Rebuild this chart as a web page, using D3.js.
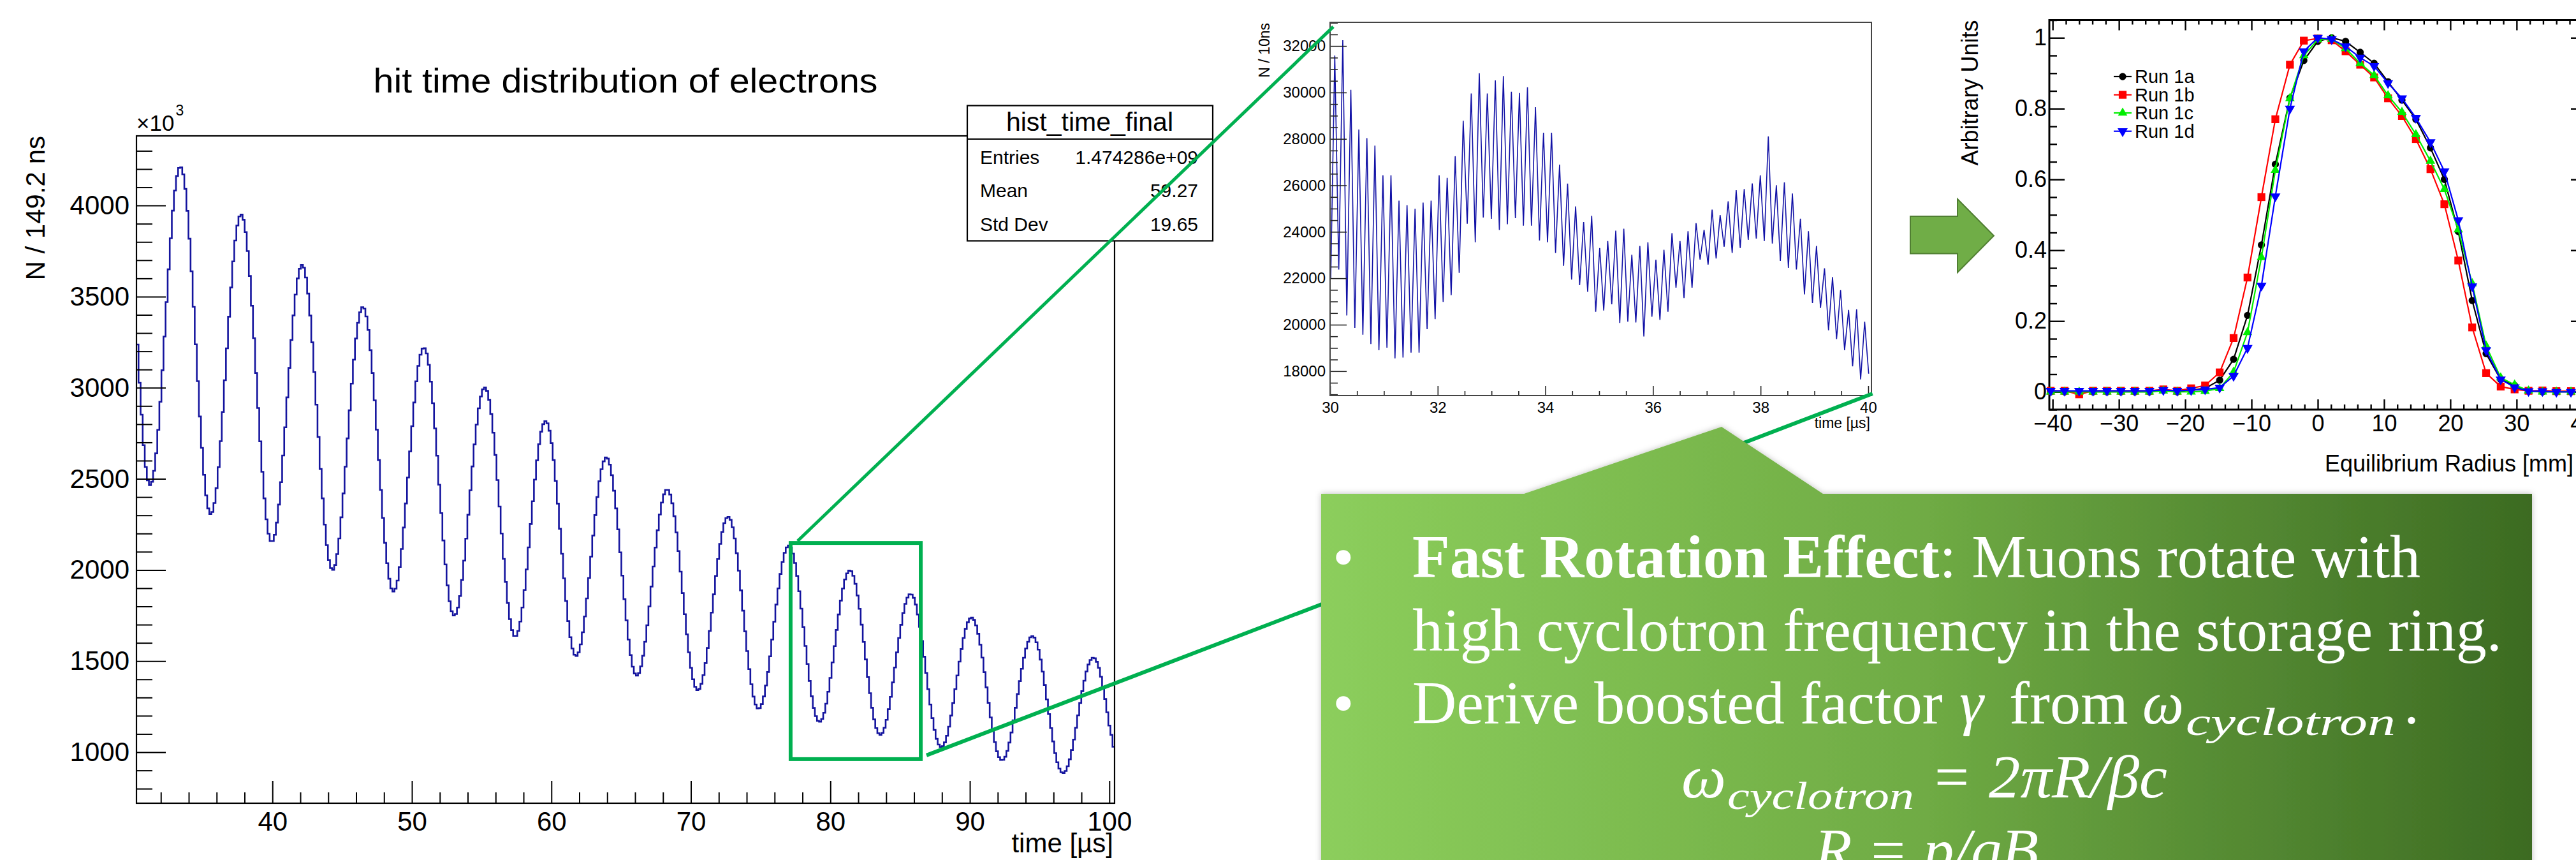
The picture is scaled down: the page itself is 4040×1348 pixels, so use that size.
<!DOCTYPE html>
<html>
<head>
<meta charset="utf-8">
<title>Fast rotation</title>
<script src="https://cdn.jsdelivr.net/npm/d3@7"></script>
<style>
  html, body { margin:0; padding:0; background:#ffffff; }
  svg { display:block; }
</style>
</head>
<body>
<svg id="chart" width="4040" height="1348" xmlns="http://www.w3.org/2000/svg"></svg>
<script>
// ================= DATA =================
const mainTitle = "hit time distribution of electrons";
const mainXTitle = "time [µs]";
const mainYTitle = "N / 149.2 ns";
const mainXRange = [30.251, 100.375];
const mainYRange = [720, 4382];
const mainBinStart = 30.251;
const mainBinWidth = 0.1492;
const mainCounts = [
3237,3027,2852,2685,2565,2492,2465,
2484,2544,2640,2769,2923,3096,3281,3470,3650,3820,3972,4082,4162,4206,
4209,4171,4091,3971,3818,3639,3444,3238,3036,2842,2670,2522,2409,2338,2307,
2318,2367,2449,2564,2707,2867,3041,3216,3390,3550,3693,3808,3890,3940,
3950,3922,3854,3750,3613,3450,3272,3081,2889,2706,2539,2393,2278,2199,2159,
2159,2193,2260,2359,2482,2628,2783,2947,3109,3262,3397,3511,3600,3653,3674,
3659,3605,3517,3396,3249,3086,2907,2730,2554,2393,2249,2136,2055,2010,
2001,2027,2087,2173,2289,2420,2567,2722,2876,3023,3154,3270,3356,3414,3442,
3434,3391,3317,3206,3081,2931,2770,2603,2439,2286,2149,2037,1952,1899,1882,
1897,1942,2016,2115,2233,2365,2507,2651,2789,2919,3035,3120,3181,3215,
3217,3188,3126,3033,2915,2777,2627,2468,2312,2162,2030,1915,1828,1774,1750,
1758,1794,1857,1945,2051,2172,2303,2437,2568,2689,2798,2887,2952,2991,
3002,2983,2934,2856,2753,2631,2493,2348,2200,2061,1934,1819,1730,1670,1638,
1638,1665,1717,1794,1890,2003,2124,2252,2377,2496,2602,2690,2759,2800,2817,
2805,2764,2696,2603,2489,2364,2226,2089,1954,1830,1719,1631,1569,1535,
1528,1548,1592,1658,1745,1844,1956,2073,2189,2301,2400,2487,2553,2596,2617,
2611,2578,2520,2435,2338,2223,2097,1969,1840,1724,1618,1533,1469,1432,
1420,1434,1471,1529,1606,1697,1800,1909,2019,2123,2218,2304,2370,2415,2439,
2439,2414,2366,2295,2206,2104,1991,1873,1757,1647,1548,1463,1400,1359,1341,
1347,1375,1423,1489,1572,1665,1766,1866,1967,2060,2143,2209,2257,2285,
2291,2275,2234,2173,2092,1996,1888,1777,1663,1555,1456,1373,1305,1262,1240,
1242,1264,1306,1366,1440,1526,1618,1716,1810,1899,1978,2044,2094,2124,2134,
2123,2090,2038,1967,1883,1788,1687,1583,1484,1391,1307,1243,1198,1172,
1167,1182,1216,1266,1332,1408,1493,1582,1671,1756,1832,1898,1948,1981,1997,
1993,1968,1924,1860,1787,1700,1605,1509,1412,1324,1244,1180,1132,1104,
1095,1106,1134,1178,1236,1304,1383,1465,1548,1627,1699,1764,1814,1848,1866,
1865,1847,1810,1756,1688,1610,1524,1435,1346,1262,1187,1122,1073,1042,1028,
1033,1054,1090,1140,1201,1270,1346,1421,1497,1566,1627,1677,1713,1734,
1739,1726,1696,1650,1590,1519,1439,1356,1271,1191,1117,1055,1005,973,957,
958,975,1007,1053,1108,1175,1244,1319,1390,1458,1518,1569,1606,1630,1637,
1629,1603,1563,1508,1442,1369,1290,1209,1132,1059,995,945,910,890,
886,897,923,961,1012,1069,1134,1202,1270,1335,1392,1443,1481,1506,1518,
1515,1496,1463,1414,1358,1292,1219,1146,1095,1030
];
const mainXTicks = [40, 50, 60, 70, 80, 90, 100];
const mainYTicks = [1000, 1500, 2000, 2500, 3000, 3500, 4000];
const statsName = "hist_time_final";
const statsLabels = ["Entries", "Mean", "Std Dev"];
const statsValues = ["1.474286e+09", "59.27", "19.65"];
const zoomWindow = { t0: 77.15, t1: 86.48, v0: 962, v1: 2148 };

const insetXTitle = "time [µs]";
const insetYTitle = "N / 10ns";
const insetXRange = [30, 40.06];
const insetYRange = [16950, 33020];
const insetStart = 30.0124;
const insetStep = 0.0746;
const insetCounts = [
22000,31590,22373,32252,20397,30116,19863,28407,19564,28034,19169,27714,18902,26432,19009,26432,
18550,25343,18582,25151,18796,24990,18796,25258,19810,25343,20237,26432,20985,26325,21273,27254,
22234,28781,24349,29956,23548,30832,24617,29956,24563,30522,24082,30704,24328,30031,24585,29977,
24264,30223,24264,29369,23623,28268,23548,28268,23089,26890,22534,26078,21947,25096,21701,24423,
21413,24690,20558,23300,
20610,23601,20877,24050,20076,24135,20130,23014,20098,23388,19489,23548,20343,22801,20204,23228,
20557,23943,21593,23601,21145,24028,21593,24370,22801,24082,22587,24958,22854,24723,23356,25310,
23089,25791,23303,25845,23655,26080,23708,26432,23601,28109,23495,26004,22747,26132,22448,25651,
22374,24562,21306,24028,20933,23388,20720,22427,19759,22053,19385,21487,18905,20633,18211,20666,
17645,20130,17890
];
const insetXTicks = [30, 32, 34, 36, 38, 40];
const insetYTicks = [18000, 20000, 22000, 24000, 26000, 28000, 30000, 32000];

const radiusTitle = "Equilibrium Radius [mm]";
const unitsTitle = "Arbitrary Units";
const radiusRange = [-40.5, 40.5];
const unitsRange = [-0.05, 1.05];
const radius = [-40.3,-38.2,-36.0,-33.9,-31.8,-29.7,-27.6,-25.4,-23.3,-21.2,-19.1,-17.0,-14.8,-12.7,-10.6,-8.5,-6.4,-4.2,-2.1,0.0,
  2.1,4.2,6.4,8.5,10.6,12.7,14.8,17.0,19.1,21.2,23.3,25.4,27.6,29.7,31.8,33.9,36.0,38.2,40.3];
const run1a = [0,0,0,0,0,0,0,0,0.005,0,0.005,0.01,0.033,0.092,0.216,0.415,0.643,0.83,0.936,0.99,
  1.0,0.99,0.959,0.928,0.876,0.824,0.77,0.689,0.6,0.453,0.258,0.108,0.035,0.018,0.003,0,0,0,0];
const run1b = [0.003,0.003,-0.007,0.003,0.003,0.003,0.003,0.003,0.007,0.003,0.01,0.018,0.055,0.152,0.323,0.55,0.77,0.924,0.992,0.998,
  0.993,0.962,0.924,0.888,0.829,0.779,0.714,0.629,0.53,0.371,0.182,0.053,0.015,0.007,0.003,0.004,0.002,0.002,0];
const run1c = [0,0,0,0,0,0,0,0,0.003,0,0,0.002,0.01,0.056,0.168,0.38,0.626,0.829,0.95,0.995,
  0.996,0.97,0.928,0.894,0.837,0.79,0.727,0.652,0.572,0.458,0.306,0.13,0.04,0.02,0.003,0,0,0,0];
const run1d = [0.003,0.003,0.003,0.003,0.003,0.003,0.003,0.003,0.005,0.003,0.005,0.007,0.012,0.045,0.124,0.30,0.552,0.80,0.962,1.0,
  0.996,0.976,0.944,0.92,0.872,0.829,0.774,0.705,0.623,0.485,0.298,0.118,0.035,0.013,0.002,0.002,0,0,0];
const runLabels = ["Run 1a", "Run 1b", "Run 1c", "Run 1d"];
const runColors = ["#000000", "#ff0000", "#00ee00", "#0000ff"];
const radiusTicks = [-40, -30, -20, -10, 0, 10, 20, 30, 40];
const unitsTicks = [0, 0.2, 0.4, 0.6, 0.8, 1];

// ================= DRAWING =================
const SANS = "'Liberation Sans', Arial, Helvetica, sans-serif";
const SERIF = "'Liberation Serif', 'Times New Roman', serif";
const svg = d3.select("#chart");
const defs = svg.append("defs");

function cleanAxis(g, fontSize, strokeW, color) {
  g.select(".domain").remove();
  g.attr("font-family", null).attr("font-size", null);
  g.selectAll("line").attr("stroke", color || "#000").attr("stroke-width", strokeW);
  g.selectAll("text").attr("font-family", SANS).attr("font-size", fontSize).attr("fill", "#000");
}

// ---------- main histogram ----------
const mx = d3.scaleLinear().domain(mainXRange).range([214, 1748]);
const my = d3.scaleLinear().domain(mainYRange).range([1259, 213]);
const gMain = svg.append("g");

defs.append("clipPath").attr("id", "clipMain").append("rect")
  .attr("x", 214).attr("y", 213).attr("width", 1534).attr("height", 1046);

const mainPts = mainCounts.map((v, i) => [mainBinStart + i * mainBinWidth, v]);
mainPts.push([mainBinStart + mainCounts.length * mainBinWidth, mainCounts[mainCounts.length - 1]]);
gMain.append("path")
  .attr("clip-path", "url(#clipMain)")
  .attr("d", d3.line().x(d => mx(d[0])).y(d => my(d[1])).curve(d3.curveStepAfter)(mainPts))
  .attr("fill", "none").attr("stroke", "#14149e").attr("stroke-width", 2.6);

// axes
const mainYMinor = d3.range(800, 4400, 100).filter(v => v % 500 !== 0);
gMain.append("g").attr("transform", "translate(214,0)")
  .call(d3.axisLeft(my).tickValues(mainYMinor).tickSize(-25).tickFormat(""))
  .call(g => cleanAxis(g, 42, 2));
gMain.append("g").attr("transform", "translate(214,0)")
  .call(d3.axisLeft(my).tickValues(mainYTicks).tickSize(-46).tickPadding(11).tickFormat(d3.format("d")))
  .call(g => cleanAxis(g, 42, 2));
const mainXMinor = d3.range(32, 101, 2).filter(v => v % 10 !== 0);
gMain.append("g").attr("transform", "translate(0,1259)")
  .call(d3.axisBottom(mx).tickValues(mainXMinor).tickSize(-17).tickFormat(""))
  .call(g => cleanAxis(g, 42, 2));
gMain.append("g").attr("transform", "translate(0,1259)")
  .call(d3.axisBottom(mx).tickValues(mainXTicks).tickSize(-35).tickPadding(13).tickFormat(d3.format("d")))
  .call(g => cleanAxis(g, 42, 2));

gMain.append("rect").attr("x", 214).attr("y", 213).attr("width", 1534).attr("height", 1046)
  .attr("fill", "none").attr("stroke", "#000").attr("stroke-width", 2.2);

// titles
gMain.append("text").attr("x", 981).attr("y", 145).attr("text-anchor", "middle")
  .attr("font-family", SANS).attr("font-size", 54)
  .attr("textLength", 791).attr("lengthAdjust", "spacingAndGlyphs").text(mainTitle);
gMain.append("text").attr("x", 1746).attr("y", 1336).attr("text-anchor", "end")
  .attr("font-family", SANS).attr("font-size", 42).text(mainXTitle);
gMain.append("text").attr("transform", "translate(70,213) rotate(-90)").attr("text-anchor", "end")
  .attr("font-family", SANS).attr("font-size", 42).text(mainYTitle);
const expo = gMain.append("text").attr("x", 214).attr("y", 205)
  .attr("font-family", SANS).attr("font-size", 35);
expo.append("tspan").text("×10");
expo.append("tspan").attr("font-size", 23).attr("dy", -24).attr("dx", 2).text("3");

// stats box
const gStats = gMain.append("g");
gStats.append("rect").attr("x", 1517).attr("y", 165.5).attr("width", 385).attr("height", 212)
  .attr("fill", "#fff").attr("stroke", "#000").attr("stroke-width", 2.2);
gStats.append("line").attr("x1", 1517).attr("x2", 1902).attr("y1", 218).attr("y2", 218)
  .attr("stroke", "#000").attr("stroke-width", 2);
gStats.append("text").attr("x", 1709).attr("y", 205).attr("text-anchor", "middle")
  .attr("font-family", SANS).attr("font-size", 41).text(statsName);
statsLabels.forEach((lab, i) => {
  const yy = [257, 309, 362][i];
  gStats.append("text").attr("x", 1537).attr("y", yy).attr("font-family", SANS).attr("font-size", 30).text(lab);
  gStats.append("text").attr("x", 1879).attr("y", yy).attr("text-anchor", "end")
    .attr("font-family", SANS).attr("font-size", 30).text(statsValues[i]);
});

// ---------- inset ----------
const ix = d3.scaleLinear().domain(insetXRange).range([2086, 2935]);
const iy = d3.scaleLinear().domain(insetYRange).range([620, 35]);
const gIn = svg.append("g");
defs.append("clipPath").attr("id", "clipIn").append("rect")
  .attr("x", 2086).attr("y", 35).attr("width", 849).attr("height", 585);
gIn.append("path").attr("clip-path", "url(#clipIn)")
  .attr("d", d3.line().x((d, i) => ix(insetStart + i * insetStep)).y(d => iy(d))(insetCounts))
  .attr("fill", "none").attr("stroke", "#1212a6").attr("stroke-width", 1.6).attr("stroke-linejoin", "miter");

const inYMinor = d3.range(17000, 33001, 500).filter(v => v % 2000 !== 0);
gIn.append("g").attr("transform", "translate(2086,0)")
  .call(d3.axisLeft(iy).tickValues(inYMinor).tickSize(-12).tickFormat(""))
  .call(g => cleanAxis(g, 24, 1.6, "#222"));
gIn.append("g").attr("transform", "translate(2086,0)")
  .call(d3.axisLeft(iy).tickValues(insetYTicks).tickSize(-26).tickPadding(7).tickFormat(d3.format("d")))
  .call(g => cleanAxis(g, 24, 1.6, "#222"));
const inXMinor = d3.range(30.5, 40.01, 0.5).filter(v => v % 2 !== 0);
gIn.append("g").attr("transform", "translate(0,620)")
  .call(d3.axisBottom(ix).tickValues(inXMinor).tickSize(-7).tickFormat(""))
  .call(g => cleanAxis(g, 24, 1.6, "#222"));
gIn.append("g").attr("transform", "translate(0,620)")
  .call(d3.axisBottom(ix).tickValues(insetXTicks).tickSize(-15).tickPadding(10).tickFormat(d3.format("d")))
  .call(g => cleanAxis(g, 24, 1.6, "#222"));
gIn.append("rect").attr("x", 2086).attr("y", 35).attr("width", 849).attr("height", 585)
  .attr("fill", "none").attr("stroke", "#444").attr("stroke-width", 2);
gIn.append("text").attr("x", 2933).attr("y", 671).attr("text-anchor", "end")
  .attr("font-family", SANS).attr("font-size", 23).text(insetXTitle);
gIn.append("text").attr("transform", "translate(1991,36) rotate(-90)").attr("text-anchor", "end")
  .attr("font-family", SANS).attr("font-size", 23).text(insetYTitle);

// ---------- right chart ----------
const rx = d3.scaleLinear().domain(radiusRange).range([3214, 4056]);
const ry = d3.scaleLinear().domain(unitsRange).range([642, 31.5]);
const gR = svg.append("g");

const rYMinor = d3.range(-0.05, 1.051, 0.05).map(v => +v.toFixed(2)).filter(v => Math.abs(Math.round(v * 5) - v * 5) > 1e-6);
const rXMinor = d3.range(-40, 41, 2).filter(v => v % 10 !== 0);
// left
gR.append("g").attr("transform", "translate(3214,0)")
  .call(d3.axisLeft(ry).tickValues(rYMinor).tickSize(-12).tickFormat(""))
  .call(g => cleanAxis(g, 36, 2.4));
gR.append("g").attr("transform", "translate(3214,0)")
  .call(d3.axisLeft(ry).tickValues(unitsTicks).tickSize(-24).tickPadding(4).tickFormat(d => String(d)))
  .call(g => cleanAxis(g, 36, 2.4));
// right
gR.append("g").attr("transform", "translate(4056,0)")
  .call(d3.axisRight(ry).tickValues(rYMinor).tickSize(-12).tickFormat(""))
  .call(g => cleanAxis(g, 36, 2.4));
gR.append("g").attr("transform", "translate(4056,0)")
  .call(d3.axisRight(ry).tickValues(unitsTicks).tickSize(-24).tickFormat(""))
  .call(g => cleanAxis(g, 36, 2.4));
// bottom
gR.append("g").attr("transform", "translate(0,642)")
  .call(d3.axisBottom(rx).tickValues(rXMinor).tickSize(-8).tickFormat(""))
  .call(g => cleanAxis(g, 36, 2.4));
gR.append("g").attr("transform", "translate(0,642)")
  .call(d3.axisBottom(rx).tickValues(radiusTicks).tickSize(-16).tickPadding(8)
    .tickFormat(d => d < 0 ? "\u2212" + Math.abs(d) : String(d)))
  .call(g => cleanAxis(g, 36, 2.4));
// top
gR.append("g").attr("transform", "translate(0,31.5)")
  .call(d3.axisTop(rx).tickValues(rXMinor).tickSize(-7).tickFormat(""))
  .call(g => cleanAxis(g, 36, 2.4));
gR.append("g").attr("transform", "translate(0,31.5)")
  .call(d3.axisTop(rx).tickValues(radiusTicks).tickSize(-16).tickFormat(""))
  .call(g => cleanAxis(g, 36, 2.4));

gR.append("rect").attr("x", 3214).attr("y", 31.5).attr("width", 842).attr("height", 610.5)
  .attr("fill", "none").attr("stroke", "#000").attr("stroke-width", 3);

const runs = [run1a, run1b, run1c, run1d];
const symTypes = [d3.symbolCircle, d3.symbolSquare, d3.symbolTriangle, d3.symbolTriangle];
const symSizes = [100, 150, 95, 110];
const symRot = [0, 0, 0, 180];
const rLine = d3.line().x((d, i) => rx(radius[i])).y(d => ry(d));
runs.forEach((vals, k) => {
  const g = gR.append("g");
  g.append("path").attr("d", rLine(vals)).attr("fill", "none")
    .attr("stroke", runColors[k]).attr("stroke-width", 2.2);
  g.selectAll("path.pt").data(vals).join("path").attr("class", "pt")
    .attr("transform", (d, i) => `translate(${rx(radius[i])},${ry(d)}) rotate(${symRot[k]})`)
    .attr("d", d3.symbol().type(symTypes[k]).size(symSizes[k]))
    .attr("fill", runColors[k]);
});
// legend
const legY = [120, 148.6, 177, 205.7];
runLabels.forEach((lab, k) => {
  const g = gR.append("g");
  g.append("line").attr("x1", 3315).attr("x2", 3343).attr("y1", legY[k]).attr("y2", legY[k])
    .attr("stroke", runColors[k]).attr("stroke-width", 2.2);
  g.append("path").attr("transform", `translate(3329,${legY[k]}) rotate(${symRot[k]})`)
    .attr("d", d3.symbol().type(symTypes[k]).size(symSizes[k])).attr("fill", runColors[k]);
  g.append("text").attr("x", 3348).attr("y", legY[k]).attr("dy", "0.36em")
    .attr("font-family", SANS).attr("font-size", 29).text(lab);
});
gR.append("text").attr("x", 4036).attr("y", 739).attr("text-anchor", "end")
  .attr("font-family", SANS).attr("font-size", 36).text(radiusTitle);
gR.append("text").attr("transform", "translate(3102,31.5) rotate(-90)").attr("text-anchor", "end")
  .attr("font-family", SANS).attr("font-size", 36).text(unitsTitle);

// ---------- zoom annotation ----------
const GREEN = "#00b050";
svg.append("rect")
  .attr("x", mx(zoomWindow.t0)).attr("y", my(zoomWindow.v1))
  .attr("width", mx(zoomWindow.t1) - mx(zoomWindow.t0)).attr("height", my(zoomWindow.v0) - my(zoomWindow.v1))
  .attr("fill", "none").attr("stroke", GREEN).attr("stroke-width", 6);
const link1 = [[77.65, 2159], [30.06, 32830]];
const link2 = [[86.89, 983], [40.08, 17032]];
svg.append("line")
  .attr("x1", mx(link2[0][0])).attr("y1", my(link2[0][1]))
  .attr("x2", ix(link2[1][0])).attr("y2", iy(link2[1][1]))
  .attr("stroke", GREEN).attr("stroke-width", 6);
svg.append("line")
  .attr("x1", mx(link1[0][0])).attr("y1", my(link1[0][1]))
  .attr("x2", ix(link1[1][0])).attr("y2", iy(link1[1][1]))
  .attr("stroke", GREEN).attr("stroke-width", 5);

// ---------- arrow ----------
svg.append("path")
  .attr("d", "M2996,339 L3070,339 L3070,312 L3127,369.5 L3070,427 L3070,397.5 L2996,397.5 Z")
  .attr("fill", "#70ad47").attr("stroke", "#507e32").attr("stroke-width", 2);

// ---------- callout ----------
const grad = defs.append("linearGradient").attr("id", "calloutGrad")
  .attr("gradientUnits", "userSpaceOnUse").attr("x1", 2072).attr("x2", 3971).attr("y1", 0).attr("y2", 0);
grad.append("stop").attr("offset", 0).attr("stop-color", "#8cce5c");
grad.append("stop").attr("offset", 0.5).attr("stop-color", "#6fab44");
grad.append("stop").attr("offset", 1).attr("stop-color", "#3c6b22");
const shadow = defs.append("filter").attr("id", "soft").attr("x", "-5%").attr("y", "-10%").attr("width", "110%").attr("height", "120%");
shadow.append("feDropShadow").attr("dx", 0).attr("dy", 0).attr("stdDeviation", 5)
  .attr("flood-color", "#000").attr("flood-opacity", 0.25);

const gC = svg.append("g");
gC.append("path")
  .attr("d", "M2072,774 L2390,774 L2700,669 L2859,774 L3971,774 L3971,1400 L2072,1400 Z")
  .attr("fill", "url(#calloutGrad)").attr("filter", "url(#soft)");

function ctext(x, y, size, str, opts) {
  const t = gC.append("text").attr("x", x).attr("y", y).attr("font-family", SERIF)
    .attr("font-size", size).attr("fill", "#fff");
  if (opts && opts.italic) t.attr("font-style", "italic");
  if (opts && opts.len) t.attr("textLength", opts.len).attr("lengthAdjust", "spacingAndGlyphs");
  if (opts && opts.anchor) t.attr("text-anchor", opts.anchor);
  t.text(str);
  return t;
}
// bullets
ctext(2090, 905, 96, "\u2022");
ctext(2090, 1134, 96, "\u2022");
// line 1
const l1 = gC.append("text").attr("x", 2215).attr("y", 905).attr("font-family", SERIF)
  .attr("font-size", 96).attr("fill", "#fff");
l1.append("tspan").attr("font-weight", "bold").text("Fast Rotation Effect");
l1.append("tspan").text(": Muons rotate with");
// line 2
ctext(2215, 1020, 96, "high cyclotron frequency in the storage ring.");
// line 3
ctext(2215, 1134, 96, "Derive boosted factor");
ctext(3073, 1134, 96, "\u03b3", { italic: true });
ctext(3151, 1134, 96, "from");
ctext(3360, 1134, 96, "\u03c9", { italic: true, len: 65 });
ctext(3428, 1152, 62, "cyclotron", { italic: true, len: 329 });
ctext(3770, 1134, 96, ".");
// formula
ctext(2637, 1250, 96, "\u03c9", { italic: true, len: 70 });
ctext(2709, 1268, 62, "cyclotron", { italic: true, len: 293 });
ctext(3034, 1250, 96, "=");
ctext(3119, 1250, 96, "2\u03c0R/\u03b2c", { italic: true, len: 280 });
ctext(2846, 1365, 96, "R = p/qB", { italic: true, len: 351 });
</script>
</body>
</html>
